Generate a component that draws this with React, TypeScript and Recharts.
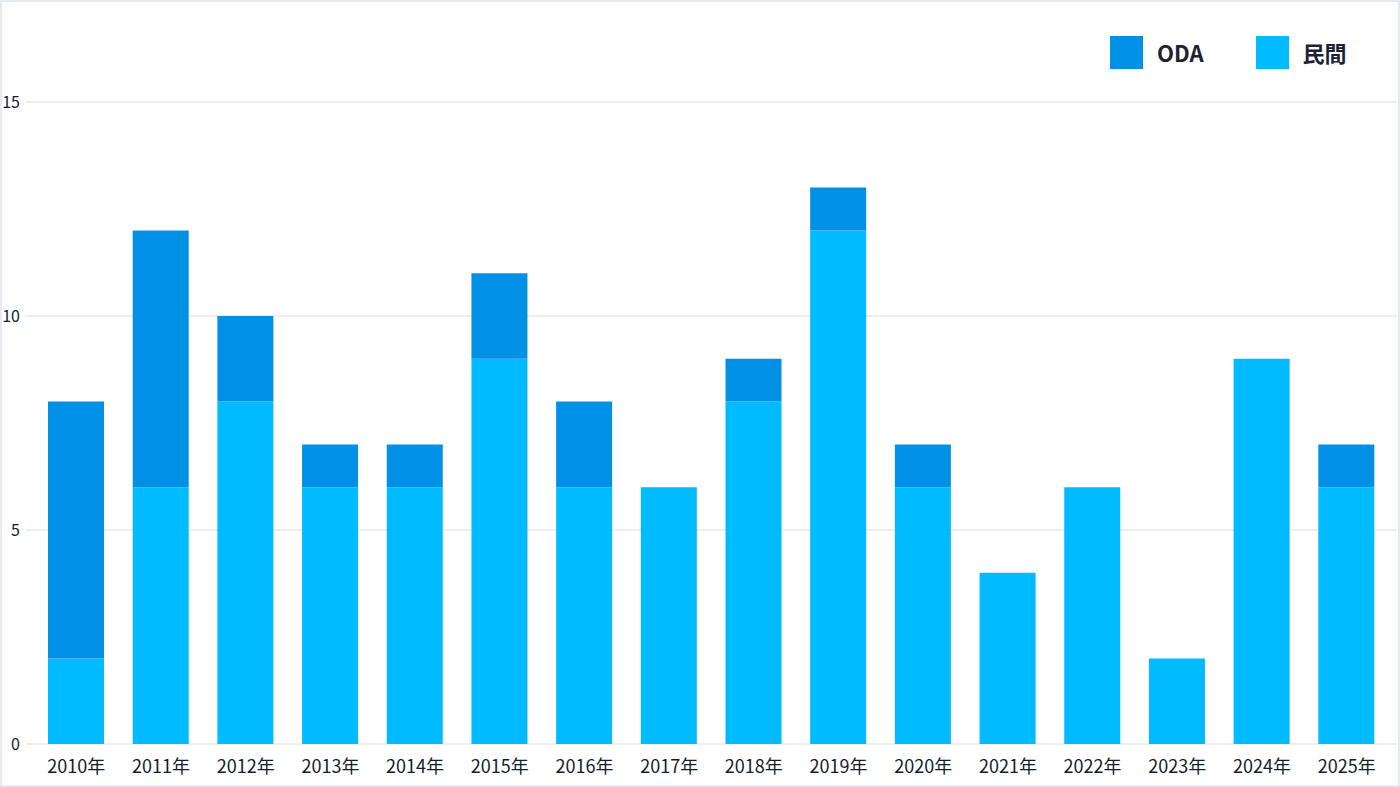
import React from 'react';
import { BarChart, Bar, XAxis, YAxis, CartesianGrid } from 'recharts';

const years = ['2010年', '2011年', '2012年', '2013年', '2014年', '2015年', '2016年', '2017年', '2018年', '2019年', '2020年', '2021年', '2022年', '2023年', '2024年', '2025年'];
const minkan = [2, 6, 8, 6, 6, 9, 6, 6, 8, 12, 6, 4, 6, 2, 9, 6];
const oda = [6, 6, 2, 1, 1, 2, 2, 0, 1, 1, 1, 0, 0, 0, 0, 1];
const yTicks = [0, 5, 10, 15];

const data = years.map((year, i) => ({ year, minkan: minkan[i], oda: oda[i] }));

const FONT = '"Noto Sans CJK JP", "Noto Sans", sans-serif';
const ODA_COLOR = '#0091E6';
const MINKAN_COLOR = '#00BBFF';

const legendItems = [
  { name: 'ODA', color: ODA_COLOR },
  { name: '民間', color: MINKAN_COLOR },
];

export default function App() {
  return (
    <div style={{ position: 'absolute', left: 0, top: 0, width: 1400, height: 787, background: '#fff' }}>
      <BarChart width={1400} height={787} data={data} margin={{ top: 102, right: 3, bottom: 13, left: 0 }}>
        <CartesianGrid vertical={false} stroke="#d9dde4" />
        <XAxis
          dataKey="year"
          axisLine={false}
          tickLine={false}
          tickMargin={10}
          height={30}
          interval={0}
          padding={{ left: 8, right: 8 }}
          tick={{ fill: '#151c2b', fontSize: 18, fontFamily: FONT }}
        />
        <YAxis
          width={26}
          domain={[0, 15]}
          ticks={yTicks}
          axisLine={false}
          tickLine={false}
          tickMargin={0}
          tick={{ fill: '#151c2b', fontSize: 16, fontFamily: FONT }}
        />
        <Bar dataKey="minkan" name="民間" stackId="a" fill={MINKAN_COLOR} barSize={56} isAnimationActive={false} />
        <Bar dataKey="oda" name="ODA" stackId="a" fill={ODA_COLOR} barSize={56} isAnimationActive={false} />
      </BarChart>
      <div style={{ position: 'absolute', top: 36, left: 1110, display: 'flex', alignItems: 'center', fontFamily: FONT }}>
        {legendItems.map((item, i) => (
          <div key={item.name} style={{ display: 'flex', alignItems: 'center', marginLeft: i === 0 ? 0 : 52 }}>
            <span style={{ width: 33, height: 33, background: item.color, display: 'inline-block', marginRight: 14 }} />
            <span style={{ fontSize: 22, fontWeight: 700, color: '#1a2233', lineHeight: '33px' }}>{item.name}</span>
          </div>
        ))}
      </div>
      <div style={{ position: 'absolute', inset: 0, border: '2px solid #e6eaf0', pointerEvents: 'none' }} />
    </div>
  );
}
